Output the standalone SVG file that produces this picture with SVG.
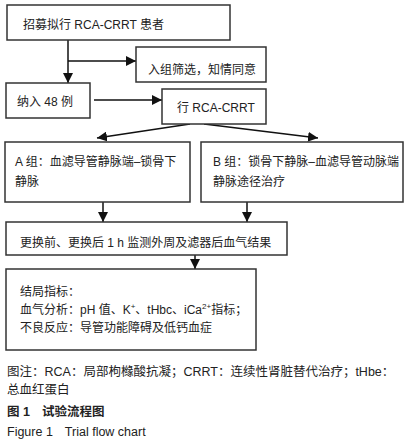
<svg xmlns="http://www.w3.org/2000/svg" width="408" height="443" viewBox="0 0 408 443">
<style>
.box{fill:#fff;stroke:#333;stroke-width:1.5}
.t{font-family:"Liberation Sans","Noto Sans CJK SC",sans-serif;font-size:12px;fill:#222}
.c{font-family:"Liberation Sans","Noto Sans CJK SC",sans-serif;font-size:12.5px;fill:#222}
.ln{stroke:#111;stroke-width:1.5;fill:none}
</style>
<defs>
<marker id="ah" markerUnits="userSpaceOnUse" markerWidth="10" markerHeight="10" refX="10" refY="5" orient="auto">
<path d="M0,0 L10,5 L0,10 z" fill="#111"/>
</marker>
</defs>
<rect width="408" height="443" fill="#fff"/>
<g id="connectors">
<path class="ln" d="M68,40 V83" marker-end="url(#ah)"/>
<path class="ln" d="M68,61 H136" marker-end="url(#ah)"/>
<path class="ln" d="M94,100 H162" marker-end="url(#ah)"/>
<path class="ln" d="M190,124 L97,138" marker-end="url(#ah)"/>
<path class="ln" d="M204,124 L318,138" marker-end="url(#ah)"/>
<path class="ln" d="M103,202 V222" marker-end="url(#ah)"/>
<path class="ln" d="M247,202 V222" marker-end="url(#ah)"/>
<path class="ln" d="M195,255 V269" marker-end="url(#ah)"/>
</g>
<g id="n1"><rect class="box" x="7" y="5" width="223" height="35"/><text class="t" x="23" y="29">招募拟行 RCA-CRRT 患者</text></g>
<g id="n2"><rect class="box" x="136" y="47" width="130" height="35"/><text class="t" x="148" y="74">入组筛选，知情同意</text></g>
<g id="n3"><rect class="box" x="6" y="83" width="84" height="35"/><text class="t" x="17" y="106">纳入 48 例</text></g>
<g id="n4"><rect class="box" x="162" y="89" width="104" height="35"/><text class="t" x="177" y="112">行 RCA-CRRT</text></g>
<g id="nA"><rect class="box" x="5" y="142" width="185" height="60"/><text class="t" x="15" y="166">A 组：血滤导管静脉端–锁骨下</text><text class="t" x="15" y="186">静脉</text></g>
<g id="nB"><rect class="box" x="201" y="142" width="202" height="60"/><text class="t" x="213" y="166">B 组：锁骨下静脉–血滤导管动脉端</text><text class="t" x="213" y="186">静脉途径治疗</text></g>
<g id="n5"><rect class="box" x="6" y="222" width="281" height="33"/><text class="t" x="20" y="247">更换前、更换后 1 h 监测外周及滤器后血气结果</text></g>
<g id="n6"><rect class="box" x="6" y="269" width="250" height="81"/>
<text class="t" x="20" y="296">结局指标：</text>
<text class="t" x="20" y="314">血气分析：pH 值、K<tspan font-size="8" dy="-5">+</tspan><tspan dy="5">、tHbc、iCa</tspan><tspan font-size="8" dy="-5">2+</tspan><tspan dy="5">指标；</tspan></text>
<text class="t" x="20" y="332">不良反应：导管功能障碍及低钙血症</text>
</g>
<g id="caption">
<text class="c" x="7" y="376">图注：RCA：局部枸橼酸抗凝；CRRT：连续性肾脏替代治疗；tHbe：</text>
<text class="c" x="7" y="394">总血红蛋白</text>
<text class="c" x="7" y="416" font-weight="bold">图 1<tspan dx="12">试验流程图</tspan></text>
<text class="c" x="7" y="436">Figure 1<tspan dx="12">Trial flow chart</tspan></text>
</g>
</svg>
